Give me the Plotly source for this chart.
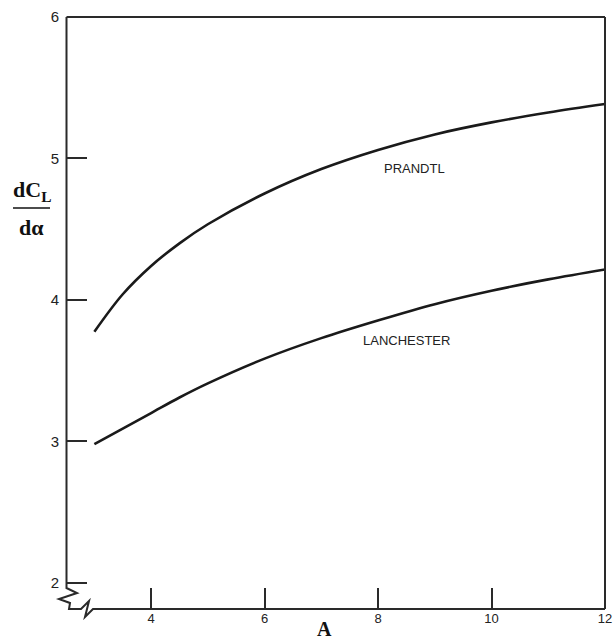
import plotly.graph_objects as go

# ---- data ----
aspect_ratio = [3, 3.5, 4, 4.5, 5, 6, 7, 8, 9, 10, 11, 12]
prandtl = [3.775, 4.04, 4.24, 4.40, 4.535, 4.752, 4.925, 5.06, 5.17, 5.255, 5.325, 5.385]
lanchester = [2.98, 3.09, 3.20, 3.31, 3.41, 3.585, 3.73, 3.855, 3.97, 4.065, 4.145, 4.215]
x_ticks = [4, 6, 8, 10, 12]
y_ticks = [2, 3, 4, 5, 6]

W, H = 615, 641
L, R, T, B = 66, 10, 17, 32
PW, PH = W - L - R, H - T - B
X_RANGE = [2.5, 12]
Y_RANGE = [1.815, 6]

def px(xp):
    return (xp - L) / PW

def py(yp):
    return (H - B - yp) / PH

ink = "#2a2a2a"

fig = go.Figure()
fig.add_trace(go.Scatter(x=aspect_ratio, y=prandtl, mode="lines",
                         line=dict(color="#1a1a1a", width=2.6, shape="spline", smoothing=1.0), name="PRANDTL"))
fig.add_trace(go.Scatter(x=aspect_ratio, y=lanchester, mode="lines",
                         line=dict(color="#1a1a1a", width=2.6, shape="spline", smoothing=1.0), name="LANCHESTER"))

# frame + broken axes drawn in paper coords
pts_left = [(66.5, 17), (66.5, 588), (77, 593), (59, 599), (70, 603), (69, 609),
            (81, 609), (89, 601), (85, 617), (93, 609), (605, 609)]
path = "M " + " L ".join(f"{px(a):.5f},{py(b):.5f}" for a, b in pts_left)
shapes = [
    dict(type="path", xref="paper", yref="paper", path=path, line=dict(color=ink, width=2)),
    dict(type="line", xref="paper", yref="paper", x0=px(66.5), x1=px(605), y0=py(17), y1=py(17), line=dict(color=ink, width=2)),
    dict(type="line", xref="paper", yref="paper", x0=px(605), x1=px(605), y0=py(17), y1=py(609), line=dict(color=ink, width=2)),
    # fraction bar of y title
    dict(type="line", xref="paper", yref="paper", x0=px(13), x1=px(50), y0=py(208), y1=py(208), line=dict(color="#111", width=1.5)),
]

serif = "Liberation Serif"
C = dict(xanchor="center", yanchor="middle", showarrow=False)
annotations = [
    dict(x=8.65, y=4.93, xref="x", yref="y", text="PRANDTL",
         font=dict(family="Liberation Sans", size=13, color="#222"), **C),
    dict(x=8.5, y=3.71, xref="x", yref="y", text="LANCHESTER",
         font=dict(family="Liberation Sans", size=13, color="#222"), **C),
    dict(x=px(324), y=py(629), xref="paper", yref="paper", text="<b>A</b>",
         font=dict(family=serif, size=20, color="#111"), **C),
    dict(x=px(32), y=py(191), xref="paper", yref="paper", text="<b>dC<sub>L</sub></b>",
         font=dict(family=serif, size=22, color="#111"), **C),
    dict(x=px(31), y=py(227), xref="paper", yref="paper", text="<b>dα</b>",
         font=dict(family=serif, size=22, color="#111"), **C),
]

fig.update_layout(
    template="none",
    width=W, height=H,
    margin=dict(l=L, r=R, t=T, b=B, pad=0),
    paper_bgcolor="white", plot_bgcolor="white",
    showlegend=False,
    shapes=shapes,
    annotations=annotations,
    xaxis=dict(range=X_RANGE, tickvals=x_ticks, ticktext=[str(v) for v in x_ticks],
               ticks="inside", ticklen=21, tickwidth=2, tickcolor=ink, automargin=False,
               showgrid=False, zeroline=False, showline=False,
               tickfont=dict(family="Liberation Sans", size=13, color="#222")),
    yaxis=dict(range=Y_RANGE, tickvals=y_ticks, ticktext=[str(v) for v in y_ticks],
               ticks="inside", ticklen=21, tickwidth=1.5, tickcolor=ink, automargin=False,
               ticklabelstandoff=6,
               showgrid=False, zeroline=False, showline=False,
               tickfont=dict(family="Liberation Sans", size=15, color="#222")),
)

fig.write_html("out.html", config={"displayModeBar": False},
               post_script="document.body.style.margin='0';")
